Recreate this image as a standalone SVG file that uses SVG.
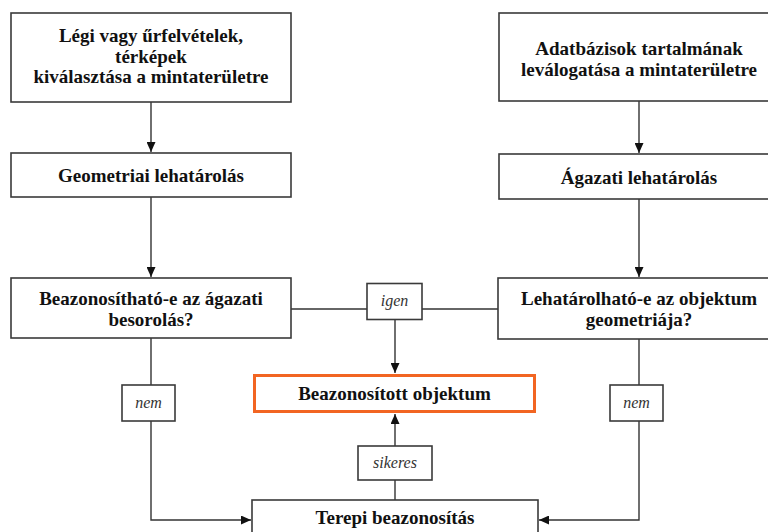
<svg xmlns="http://www.w3.org/2000/svg" width="768" height="532" viewBox="0 0 768 532">
<defs>
<style>
.box{fill:#fff;stroke:#3a3a3a;stroke-width:1.6}
.lbl{fill:#fff;stroke:#3a3a3a;stroke-width:1.6}
.hl{fill:#fff;stroke:#f26522;stroke-width:3}
.t{font-family:"Liberation Serif","Times New Roman",serif;font-weight:bold;font-size:19px;fill:#111;text-anchor:middle}
.i{font-family:"Liberation Serif","Times New Roman",serif;font-style:italic;font-size:16px;fill:#333;text-anchor:middle}
.c{fill:none;stroke:#333;stroke-width:1.4}
</style>
<marker id="ah" markerWidth="10" markerHeight="9" refX="10" refY="4.5" orient="auto" markerUnits="userSpaceOnUse">
<path d="M0,0 L10,4.5 L0,9 z" fill="#111"/>
</marker>
</defs>
<rect width="768" height="532" fill="#fff"/>
<g id="connectors">
<path class="c" d="M151,102 V152" marker-end="url(#ah)"/>
<path class="c" d="M151,197 V277" marker-end="url(#ah)"/>
<path class="c" d="M639,101 V153" marker-end="url(#ah)"/>
<path class="c" d="M639,199 V277" marker-end="url(#ah)"/>
<path class="c" d="M291,309 H367"/>
<path class="c" d="M422,309 H498"/>
<path class="c" d="M395,319 V373" marker-end="url(#ah)"/>
<path class="c" d="M151,338 V385"/>
<path class="c" d="M151,421 V520 H251" marker-end="url(#ah)"/>
<path class="c" d="M639,339 V385"/>
<path class="c" d="M639,421 V520 H539" marker-end="url(#ah)"/>
<path class="c" d="M395,500 V480"/>
<path class="c" d="M395,446 V414" marker-end="url(#ah)"/>
</g>
<g id="n1">
<rect class="box" x="11" y="13" width="280" height="89"/>
<text class="t" x="151" y="42">Légi vagy űrfelvételek,</text>
<text class="t" x="151" y="62.5">térképek</text>
<text class="t" x="151" y="83">kiválasztása a mintaterületre</text>
</g>
<g id="n2">
<rect class="box" x="499" y="13" width="280" height="88"/>
<text class="t" x="639" y="55">Adatbázisok tartalmának</text>
<text class="t" x="639" y="76">leválogatása a mintaterületre</text>
</g>
<g id="n3">
<rect class="box" x="11" y="153" width="280" height="44"/>
<text class="t" x="151" y="182">Geometriai lehatárolás</text>
</g>
<g id="n4">
<rect class="box" x="499" y="154" width="280" height="45"/>
<text class="t" x="639" y="184">Ágazati lehatárolás</text>
</g>
<g id="n5">
<rect class="box" x="11" y="278" width="280" height="60"/>
<text class="t" x="151" y="305">Beazonosítható-e az ágazati</text>
<text class="t" x="151" y="326">besorolás?</text>
</g>
<g id="n6">
<rect class="box" x="498" y="278" width="281" height="61"/>
<text class="t" x="639" y="305">Lehatárolható-e az objektum</text>
<text class="t" x="639" y="326">geometriája?</text>
</g>
<g id="l-igen">
<rect class="lbl" x="367" y="283.5" width="55" height="36"/>
<text class="i" x="394.5" y="306">igen</text>
</g>
<g id="n7">
<rect class="hl" x="254.5" y="375.5" width="280" height="36"/>
<text class="t" x="394.5" y="400">Beazonosított objektum</text>
</g>
<g id="l-nem1">
<rect class="lbl" x="122" y="385" width="53" height="36"/>
<text class="i" x="148.5" y="408">nem</text>
</g>
<g id="l-nem2">
<rect class="lbl" x="610" y="385" width="53" height="36"/>
<text class="i" x="636.5" y="408">nem</text>
</g>
<g id="l-sikeres">
<rect class="lbl" x="358" y="446" width="74" height="34"/>
<text class="i" x="395" y="468">sikeres</text>
</g>
<g id="n8">
<rect class="box" x="252" y="500" width="286" height="50"/>
<text class="t" x="395" y="524">Terepi beazonosítás</text>
</g>
</svg>
